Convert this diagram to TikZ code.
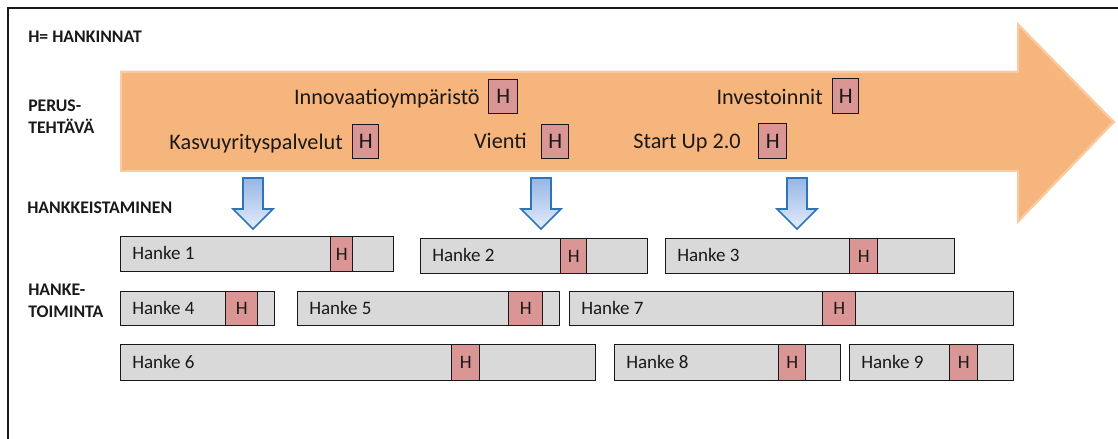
\documentclass[tikz,border=0pt]{standalone}
\usepackage{fontspec}
\setmainfont{Carlito}

\definecolor{arrowfill}{RGB}{247,181,126}
\definecolor{arrowedge}{RGB}{251,202,158}
\definecolor{barfill}{RGB}{217,217,217}
\definecolor{hfill}{RGB}{218,150,148}
\definecolor{blueedge}{RGB}{46,117,182}
\definecolor{bluetop}{RGB}{150,182,230}
\definecolor{bluebot}{RGB}{228,236,250}
\definecolor{ink}{RGB}{25,25,25}

\tikzset{
  sidelabel/.style={font=\bfseries\fontsize{12.6}{15.6}\selectfont, align=left, anchor=west, inner sep=0pt, text=ink},
  arrowtext/.style={font=\fontsize{15.8}{18}\selectfont, anchor=base east, inner sep=0pt, text=ink},
  hbox/.style={draw=ink, fill=hfill, line width=1pt, inner sep=0pt, anchor=north west, text=ink},
  barbox/.style={draw=ink, fill=barfill, line width=1pt, inner sep=0pt, anchor=north west},
  bartext/.style={font=\fontsize{13.5}{16}\selectfont, anchor=base west, inner sep=0pt, text=ink},
  downarrow/.style={draw=blueedge, top color=bluetop, bottom color=bluebot, line width=1.1pt, line join=miter}
}

% H marker inside the big arrow: name, x1, y1, x2, y2
\newcommand\arrowmark[5]{%
  \node[hbox, font=\fontsize{15.8}{18}\selectfont,
        minimum width={(#4-#2)*0.025cm}, minimum height={(#5-#3)*0.025cm}] (#1) at (#2,#3) {H};}

% project bar with its H marker: name, x1, y1, x2, y2, hx1, hx2, number
\newcommand\projectbar[8]{%
  \node[barbox, minimum width={(#4-#2)*0.025cm}, minimum height={(#5-#3)*0.025cm}] (#1) at (#2,#3) {};
  \node[hbox, font=\fontsize{13.5}{16}\selectfont,
        minimum width={(#7-#6)*0.025cm}, minimum height={(#5-#3)*0.025cm}] (#1h) at (#6,#3) {H};
  \node[bartext] (#1t) at ({#2+12},{(#3+#5)/2+6}) {Hanke #8};}

% downward block arrow centred at x = #1
\newcommand\downblock[1]{%
  \path[downarrow] ({#1-10},178) -- ({#1+10},178) -- ({#1+10},209) -- ({#1+20},209)
     -- (#1,229) -- ({#1-20},209) -- ({#1-10},209) -- cycle;}

\begin{document}
\begin{tikzpicture}[x=0.025cm, y=-0.025cm]
  \useasboundingbox (0,0) rectangle (1118,439);

  % frame (left and top edges)
  \draw[ink, line width=1.4pt] (8,439) -- (8,8) -- (1118,8);

  % big process arrow with a soft light rim
  \path[fill=arrowfill] (120,71) -- (1017,71) -- (1017,22) -- (1115,122)
      -- (1017,224) -- (1017,172) -- (120,172) -- cycle;
  \begin{scope}
    \clip (120,71) -- (1017,71) -- (1017,22) -- (1115,122)
      -- (1017,224) -- (1017,172) -- (120,172) -- cycle;
    \draw[arrowedge, line width=3pt, line join=miter] (120,71) -- (1017,71) -- (1017,22) -- (1115,122)
      -- (1017,224) -- (1017,172) -- (120,172) -- cycle;
  \end{scope}

  % side labels
  \node[sidelabel] (legend) at (28,37) {H= HANKINNAT};
  \node[sidelabel] (perus) at (28,117) {PERUS-\\TEHTÄVÄ};
  \node[sidelabel] (hankk) at (27,208) {HANKKEISTAMINEN};
  \node[sidelabel] (toim) at (28,301) {HANKE-\\TOIMINTA};

  % tasks inside the arrow
  \node[arrowtext] (kasvu) at (343,150) {Kasvuyrityspalvelut};
  \arrowmark{kasvuh}{352}{124}{378}{158}
  \node[arrowtext] (innov) at (480,105) {Innovaatioympäristö};
  \arrowmark{innovh}{488}{79}{517}{113}
  \node[arrowtext] (vienti) at (527,149) {Vienti};
  \arrowmark{vientih}{541}{124}{568}{158}
  \node[arrowtext] (start) at (741,149) {Start Up 2.0};
  \arrowmark{starth}{758}{123}{786}{158}
  \node[arrowtext] (invest) at (823,105) {Investoinnit};
  \arrowmark{investh}{832}{78}{858}{113}

  % arrows down to the projects
  \downblock{253}
  \downblock{541}
  \downblock{797}

  % projects
  \projectbar{h1}{120}{236}{393}{271}{330}{352}{1}
  \projectbar{h2}{420}{238}{647}{273}{560}{586}{2}
  \projectbar{h3}{665}{238}{954}{273}{849}{877}{3}
  \projectbar{h4}{120}{291}{274}{325}{225}{257}{4}
  \projectbar{h5}{297}{291}{559}{325}{508}{542}{5}
  \projectbar{h7}{569}{291}{1013}{325}{822}{855}{7}
  \projectbar{h6}{120}{344}{595}{380}{451}{479}{6}
  \projectbar{h8}{614}{344}{840}{380}{778}{805}{8}
  \projectbar{h9}{849}{344}{1013}{380}{949}{977}{9}
\end{tikzpicture}
\end{document}
